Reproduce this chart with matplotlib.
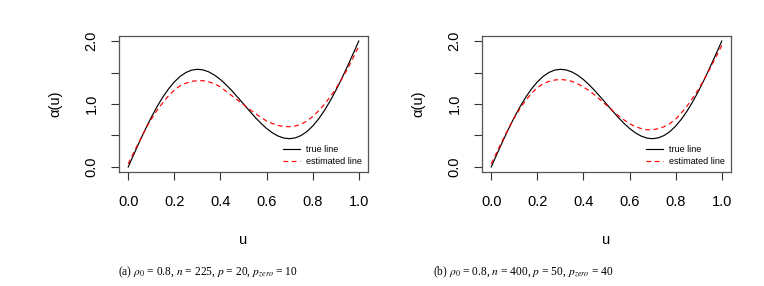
import matplotlib
matplotlib.use("Agg")
import matplotlib.pyplot as plt

plt.rcParams["font.family"] = ["Liberation Sans", "DejaVu Sans"]
plt.rcParams["mathtext.fontset"] = "stix"

u = [0.0, 0.025, 0.05, 0.075, 0.1, 0.125, 0.15, 0.175, 0.2, 0.225,
     0.25, 0.275, 0.3, 0.325, 0.35, 0.375, 0.4, 0.425, 0.45, 0.475,
     0.5, 0.525, 0.55, 0.575, 0.6, 0.625, 0.65, 0.675, 0.7, 0.725,
     0.75, 0.775, 0.8, 0.825, 0.85, 0.875, 0.9, 0.925, 0.95, 0.975, 1.0]

true_line = [0.0, 0.206, 0.409, 0.604, 0.788, 0.957, 1.109, 1.241, 1.351, 1.438,
             1.5, 1.538, 1.551, 1.541, 1.509, 1.457, 1.388, 1.304, 1.209, 1.106,
             1.0, 0.894, 0.791, 0.696, 0.612, 0.543, 0.491, 0.459, 0.449, 0.462,
             0.5, 0.562, 0.649, 0.759, 0.891, 1.043, 1.212, 1.396, 1.591, 1.794, 2.0]

est_a = [0.05, 0.24, 0.42, 0.60, 0.76, 0.90, 1.02, 1.13, 1.22, 1.29,
         1.33, 1.36, 1.37, 1.37, 1.35, 1.32, 1.27, 1.20, 1.13, 1.06,
         0.99, 0.92, 0.85, 0.79, 0.73, 0.69, 0.66, 0.64, 0.64, 0.65,
         0.68, 0.73, 0.80, 0.89, 0.99, 1.11, 1.24, 1.39, 1.55, 1.73, 1.92]

est_b = [0.05, 0.24, 0.43, 0.61, 0.78, 0.93, 1.06, 1.17, 1.26, 1.32,
         1.36, 1.38, 1.39, 1.38, 1.36, 1.32, 1.27, 1.21, 1.14, 1.06,
         0.98, 0.90, 0.82, 0.75, 0.69, 0.64, 0.61, 0.59, 0.59, 0.61,
         0.64, 0.69, 0.76, 0.86, 0.97, 1.10, 1.24, 1.40, 1.57, 1.75, 1.93]

captions = [r"(a) $\rho_0$ = 0.8, $n$ = 225, $p$ = 20, $p_{zero}$ = 10",
            r"(b) $\rho_0$ = 0.8, $n$ = 400, $p$ = 50, $p_{zero}$ = 40"]

x_ticks = [0.0, 0.2, 0.4, 0.6, 0.8, 1.0]
y_ticks = [0.0, 0.5, 1.0, 1.5, 2.0]
y_labels = ["0.0", "", "1.0", "", "2.0"]

fig = plt.figure(figsize=(7.64, 2.86), dpi=100)

lefts = [119 / 764, 482 / 764]
for left, est, cap, cx in zip(lefts, [est_a, est_b], captions, [208 / 764, 523 / 764]):
    ax = fig.add_axes([left, 114 / 286, 249 / 764, 136 / 286])
    ax.plot(u, true_line, color="black", lw=0.85, label="true line")
    ax.plot(u, est, color="red", lw=0.85, ls=(0, (4, 3)), label="estimated line")
    ax.set_xlim(-0.04, 1.04)
    ax.set_ylim(-0.08, 2.08)
    ax.set_xticks(x_ticks)
    ax.set_xticklabels([f"{t:.1f}" for t in x_ticks])
    ax.set_yticks(y_ticks)
    ax.set_yticklabels(y_labels, rotation=90, va="center")
    ax.tick_params(axis="both", length=5.8, width=0.8, color="#333333",
                   labelsize=10.5, pad=9)
    ax.tick_params(axis="x", pad=11)
    for s in ax.spines.values():
        s.set_color("#555555")
        s.set_linewidth(0.9)
    ax.set_xlabel("u", fontsize=10.5, labelpad=17)
    ax.set_ylabel("α(u)", fontsize=10.5, labelpad=16)
    ax.legend(loc="lower right", frameon=False, fontsize=6.5,
              handlelength=1.9, handletextpad=0.6, borderaxespad=0.3,
              labelspacing=0.25)
    fig.text(cx, 14 / 286, cap, ha="center", va="center", fontsize=8.3,
             family=["Liberation Serif", "DejaVu Serif"])

fig.savefig("out.png", dpi=100)
